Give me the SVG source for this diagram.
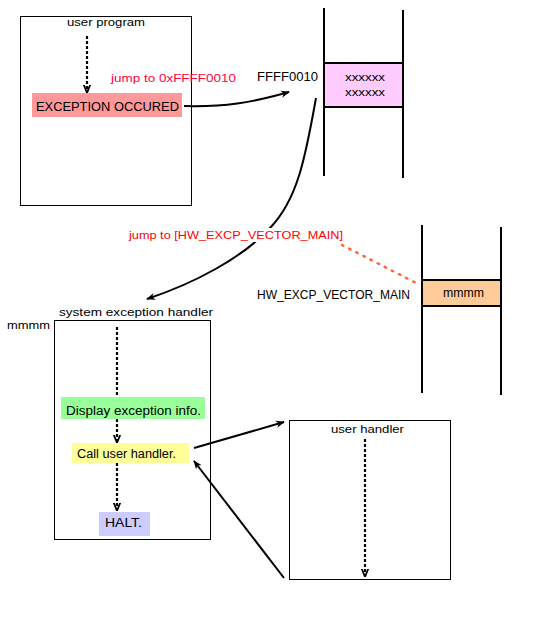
<svg xmlns="http://www.w3.org/2000/svg" width="534" height="618" viewBox="0 0 534 618">
<defs>
<marker id="ah" viewBox="0 0 10 10" refX="9" refY="5" markerWidth="9" markerHeight="9" orient="auto" markerUnits="userSpaceOnUse">
<path d="M0,1 L10,5 L0,9 L3,5 Z" fill="#000"/>
</marker>
<marker id="dh" viewBox="0 0 10 10" refX="9" refY="5" markerWidth="8" markerHeight="8" orient="auto" markerUnits="userSpaceOnUse">
<path d="M0,1 L10,5 L0,9" fill="none" stroke="#000" stroke-width="2.2"/>
</marker>
</defs>
<style>
text{font-family:"Liberation Sans","Noto Sans CJK JP",sans-serif;fill:#000}
.box{fill:#fff;stroke:#000;stroke-width:1}
.mem{stroke:#000;stroke-width:2;fill:none}
.dash{stroke:#000;stroke-width:2.2;stroke-dasharray:3,2;fill:none;marker-end:url(#dh)}
.arr{stroke:#000;stroke-width:2;fill:none;marker-end:url(#ah)}
.red{fill:#ff0040}
</style>
<rect width="534" height="618" fill="#fff"/>

<g id="user-program">
<rect class="box" x="20.5" y="16.5" width="171" height="189"/>
<text x="67" y="25.5" font-size="11" textLength="78" lengthAdjust="spacingAndGlyphs">user program</text>
<line class="dash" x1="87" y1="36" x2="87" y2="92"/>
</g>
<g id="exception-occured">
<rect x="32" y="93" width="150" height="24" fill="#ff9999"/>
<text x="36" y="110.5" font-size="13" textLength="143" lengthAdjust="spacingAndGlyphs">EXCEPTION OCCURED</text>
</g>

<g id="vector-table-1">
<line class="mem" x1="324" y1="8" x2="324" y2="176"/>
<line class="mem" x1="403" y1="10" x2="403" y2="178"/>
<rect x="324" y="63" width="79" height="44" fill="#ffccff" stroke="#000" stroke-width="2"/>
<text x="345" y="80.5" font-size="11" textLength="40" lengthAdjust="spacingAndGlyphs">xxxxxx</text>
<text x="345" y="95.5" font-size="11" textLength="40" lengthAdjust="spacingAndGlyphs">xxxxxx</text>
<text x="257" y="80.5" font-size="12.5" textLength="61" lengthAdjust="spacingAndGlyphs">FFFF0010</text>
</g>

<g id="vector-table-2">
<line class="mem" x1="422" y1="225" x2="422" y2="393"/>
<line class="mem" x1="501" y1="227" x2="501" y2="395"/>
<rect x="422" y="280" width="79" height="26" fill="#ffcc99" stroke="#000" stroke-width="2"/>
<text x="443" y="297" font-size="12" textLength="41" lengthAdjust="spacingAndGlyphs">mmmm</text>
<text x="257" y="298.5" font-size="12" textLength="153" lengthAdjust="spacingAndGlyphs">HW_EXCP_VECTOR_MAIN</text>
</g>

<g id="system-exception-handler">
<rect class="box" x="54.5" y="320.5" width="156" height="219"/>
<text x="59" y="316" font-size="11.5" textLength="154" lengthAdjust="spacingAndGlyphs">system exception handler</text>
<text x="7" y="328.5" font-size="11" textLength="43" lengthAdjust="spacingAndGlyphs">mmmm</text>
<line class="dash" x1="117" y1="327" x2="117" y2="397" style="marker-end:none"/>
<line class="dash" x1="117" y1="419" x2="117" y2="442"/>
<line class="dash" x1="117" y1="463" x2="117" y2="510"/>
</g>
<g id="display-info">
<rect x="61" y="397" width="144" height="22" fill="#99ff99"/>
<text x="66" y="414.5" font-size="12" textLength="135" lengthAdjust="spacingAndGlyphs">Display exception info.</text>
</g>
<g id="call-user-handler">
<rect x="72" y="443" width="117" height="20" fill="#ffff99"/>
<text x="77" y="457.5" font-size="12" textLength="99" lengthAdjust="spacingAndGlyphs">Call user handler.</text>
</g>
<g id="halt">
<rect x="99" y="512" width="51" height="24" fill="#ccccff"/>
<text x="105" y="527" font-size="12.5" textLength="37" lengthAdjust="spacingAndGlyphs">HALT.</text>
</g>

<g id="user-handler">
<rect class="box" x="289.5" y="420.5" width="161" height="159"/>
<text x="331" y="432.5" font-size="11.5" textLength="73" lengthAdjust="spacingAndGlyphs">user handler</text>
<line class="dash" x1="365" y1="439" x2="365" y2="576"/>
</g>

<g id="connectors">
<path class="arr" d="M184,106 C225,107 250,103 289,92"/>
<path class="arr" d="M316,98 C305,160 297,200 270,228 C242,258 195,283 147,299"/>
<line x1="342" y1="245" x2="420" y2="285" stroke="#ff6633" stroke-width="2.5" stroke-dasharray="1.5,6.5" stroke-linecap="round"/>
<line class="arr" x1="194" y1="448" x2="284" y2="422"/>
<line class="arr" x1="284" y1="578" x2="194" y2="461"/>
</g>

<g id="labels">
<text class="red" x="111" y="82" font-size="11" textLength="125" lengthAdjust="spacingAndGlyphs">jump to 0xFFFF0010</text>
<rect x="126" y="228" width="220" height="14" fill="#fff"/>
<text x="129" y="238.5" font-size="11" style="fill:#ff0000" textLength="214" lengthAdjust="spacingAndGlyphs">jump to [HW_EXCP_VECTOR_MAIN]</text>
</g>
</svg>
